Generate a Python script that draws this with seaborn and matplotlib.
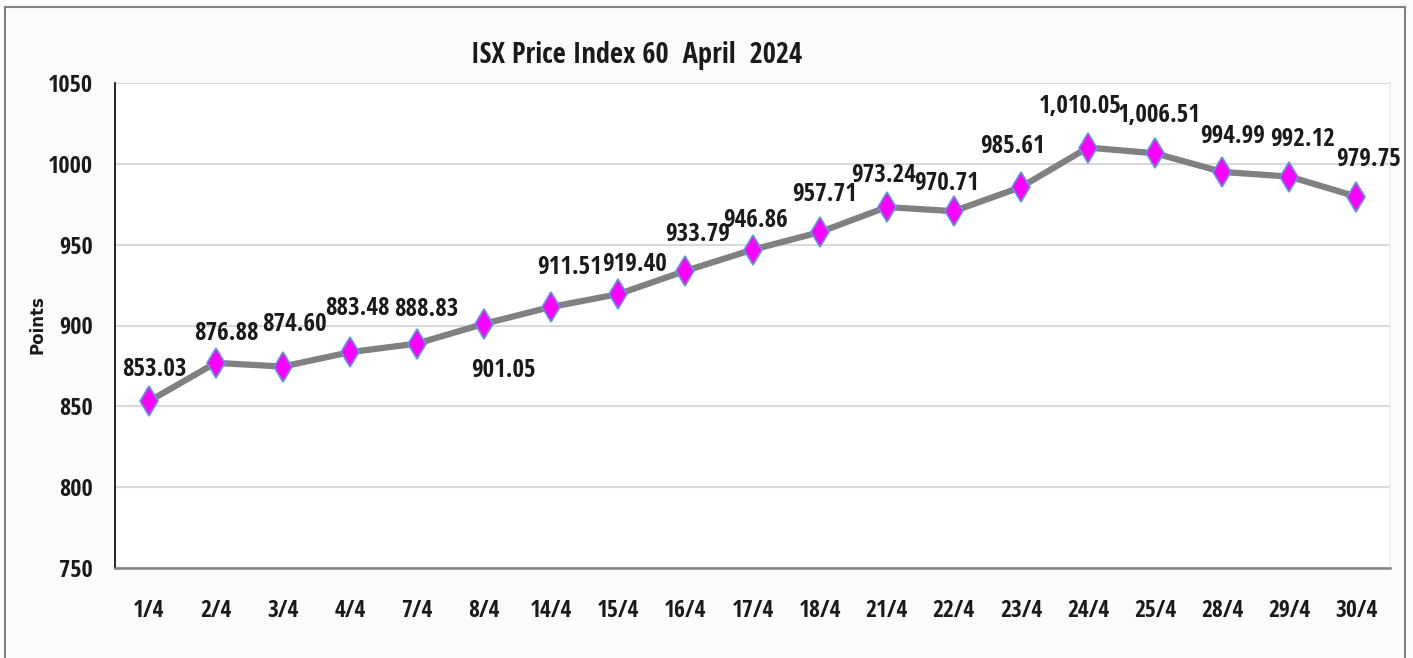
import matplotlib
matplotlib.use("Agg")
import matplotlib.pyplot as plt
import matplotlib.font_manager as fm
import matplotlib.patches as mpatches
import seaborn as sns
import pandas as pd

dates = ["1/4", "2/4", "3/4", "4/4", "7/4", "8/4", "14/4", "15/4", "16/4", "17/4",
         "18/4", "21/4", "22/4", "23/4", "24/4", "25/4", "28/4", "29/4", "30/4"]
points = [853.03, 876.88, 874.60, 883.48, 888.83, 901.05, 911.51, 919.40, 933.79, 946.86,
          957.71, 973.24, 970.71, 985.61, 1010.05, 1006.51, 994.99, 992.12, 979.75]
yticks = [750, 800, 850, 900, 950, 1000, 1050]

# label nudges in pixels (dx, dy), like the hand-placed labels of the original
label_offsets = [(6, 32), (11, 29), (12, 42), (8, 44), (9, 34), (19, -47), (18, 39),
                 (16, 30), (12, 36), (3, 29), (5, 38), (-3, 32), (-7, 28), (-8, 41),
                 (-8, 41), (4, 38), (10, 35), (13, 37), (12, 37)]

df = pd.DataFrame({"date": dates, "points": points})

sns.set_theme(style="white")
names = {f.name for f in fm.fontManager.ttflist}
fam = "DejaVu Sans"
for cand in ["Open Sans Condensed", "Carlito", "Barlow Semi Condensed", "Archivo Narrow"]:
    if cand in names:
        fam = cand
        break
plt.rcParams["font.family"] = [fam, "DejaVu Sans"]

fig = plt.figure(figsize=(14.13, 6.58), dpi=100, facecolor="#fbfbfb")
ax = fig.add_axes([115 / 1413, 1 - 568 / 658, (1390 - 115) / 1413, (568 - 83) / 658])
ax.set_facecolor("white")

sns.lineplot(data=df, x="date", y="points", ax=ax, color="#808080", linewidth=4.5,
             marker="d", markersize=15, markerfacecolor="#ff00ff",
             markeredgecolor="#5b9bd5", markeredgewidth=1.2, sort=False)

ax.set_xlim(-0.5, len(dates) - 0.5)
ax.set_ylim(750, 1050)
ax.set_yticks(yticks)
ax.yaxis.grid(True, color="#d9d9d9", linewidth=1.5)
ax.set_axisbelow(True)
ax.tick_params(axis="y", length=0, pad=16, labelsize=17.5, labelcolor="#1a1a1a")
ax.tick_params(axis="x", length=0, pad=22, labelsize=17, labelcolor="#1a1a1a")
for lab in ax.get_xticklabels() + ax.get_yticklabels():
    lab.set_fontweight("medium")
ax.set_xlabel("")
ax.set_ylabel("")
fig.text(38 / 1413, 1 - 325 / 658, "Points", rotation=90, ha="center", va="center",
         fontsize=12, fontweight="bold", family="DejaVu Sans", color="#1a1a1a")

ax.spines["top"].set_visible(False)
ax.spines["right"].set_color("#ececec")
ax.spines["right"].set_linewidth(1.2)
ax.spines["left"].set_color("black")
ax.spines["left"].set_linewidth(1.2)
ax.spines["bottom"].set_color("#808080")
ax.spines["bottom"].set_linewidth(1.8)

for i, (v, off) in enumerate(zip(points, label_offsets)):
    ax.annotate(f"{v:,.2f}", (i, v), xytext=off, textcoords="offset pixels",
                ha="center", va="center", fontsize=18, fontweight="medium", color="#1a1a1a")

fig.text(637 / 1413, 1 - 56 / 658, "ISX Price Index 60  April  2024", ha="center",
         va="center", fontsize=20.5, fontweight="bold", color="#1a1a1a")

fig.patches.append(mpatches.Rectangle((5 / 1413, -0.02), 1400 / 1413, 1.02 - 7 / 658,
                                      transform=fig.transFigure, fill=False,
                                      edgecolor="#808080", linewidth=1.5))

fig.savefig("out.png", dpi=100, facecolor=fig.get_facecolor())
